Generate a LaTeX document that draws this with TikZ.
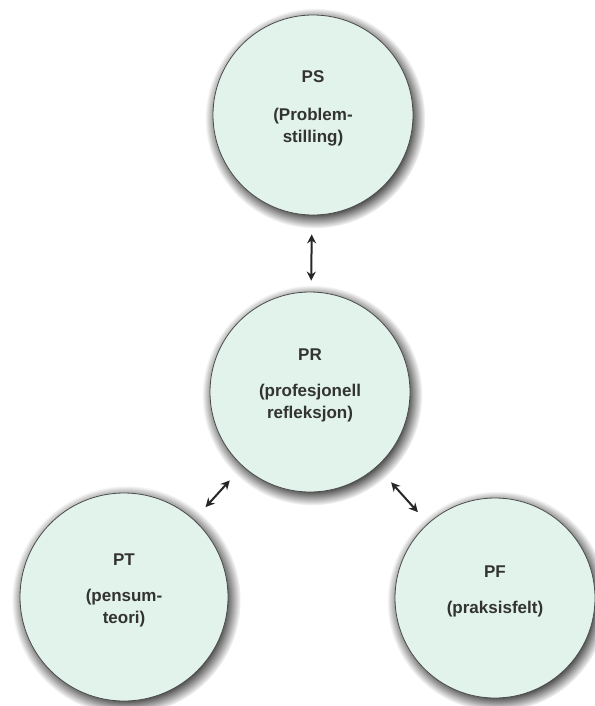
\documentclass[tikz,border=0pt]{standalone}
\usepackage{fontspec}
\setmainfont{Liberation Sans}
\usepackage{tikz}
\usetikzlibrary{arrows,arrows.meta,shapes,shadows}
\definecolor{mint}{HTML}{E1F3EA}
\definecolor{ink}{HTML}{333333}
\tikzstyle{topic}=[circle,draw=black!70,line width=0.8pt,fill=mint,minimum size=200pt,inner sep=0pt,
    align=center,text=ink,font=\fontsize{17pt}{22pt}\selectfont\bfseries,text depth=16pt,
    circular drop shadow={shadow xshift=2pt,shadow yshift=-3pt,opacity=0.85,fill=black!90}]
\tikzstyle{link} = [draw,line width=2pt,black!85,{Stealth[length=9pt,width=9pt]}-{Stealth[length=9pt,width=9pt]}]

\begin{document}
\begin{tikzpicture}[x=1pt,y=-1pt]
    \useasboundingbox (0,0) rectangle (594,706);
    % The four circles
    \node[topic] (PS) at (313,115) {PS\\[16pt](Problem-\\stilling)};
    \node[topic] (PR) at (310,392) {PR\\[14pt](profesjonell\\refleksjon)};
    \node[topic,minimum size=208pt] (PT) at (124,597) {PT\\[14pt](pensum-\\teori)};
    \node[topic] (PF) at (495,598) {PF\\[14pt](praksisfelt)};
    % Double arrows, kept off the circles
    \foreach \source/\dest/\a/\b in {PS/PR/19pt/11pt, PR/PT/19pt/17pt, PR/PF/21pt/15pt}
        \path[link,shorten <=\a,shorten >=\b] (\source) -- (\dest);
\end{tikzpicture}
\end{document}
